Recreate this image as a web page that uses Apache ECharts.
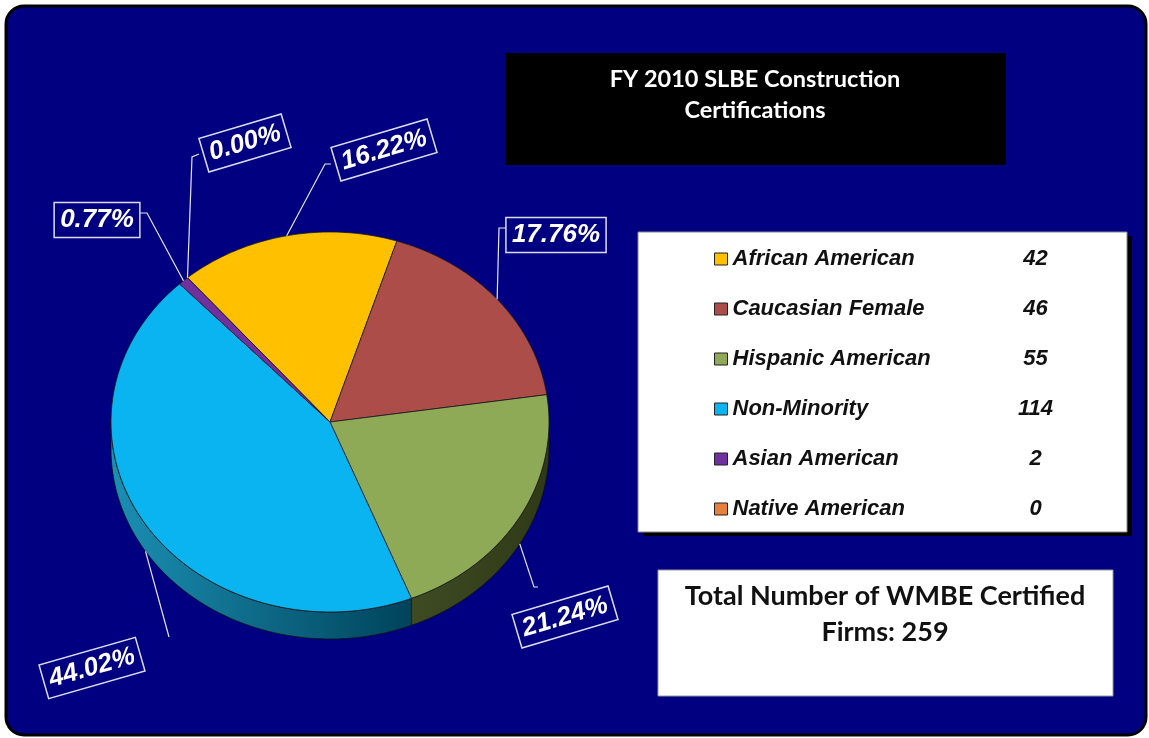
<!DOCTYPE html>
<html>
<head>
<meta charset="utf-8">
<title>FY 2010 SLBE Construction Certifications</title>
<script src="https://cdn.jsdelivr.net/npm/echarts@6/dist/echarts.min.js"></script>
<style>
html, body { margin: 0; padding: 0; background: #ffffff; }
#main { width: 1149px; height: 738px; }
</style>
</head>
<body>
<div id="main"></div>
<script>
// data
var categories = ['African American', 'Caucasian Female', 'Hispanic American', 'Non-Minority', 'Asian American', 'Native American'];
var firmCounts = [42, 46, 55, 114, 2, 0];
var titleLines = ['FY 2010 SLBE Construction', 'Certifications'];
var totalLines = ['Total Number of WMBE Certified', 'Firms: '];

// styling
var topColors = ['#FFC000', '#AD4D4A', '#8FAA57', '#0AB4F0', '#7030A0', '#E6803C'];
var sideColors = [
  ['#7a5c00', '#5a4400'],
  ['#5a2423', '#431a19'],
  ['#3e4b22', '#2f3917'],
  ['#1b8fb3', '#00435b'],
  ['#3a1755', '#2a0f40'],
  ['#7a401a', '#5a2e10']
];
// tilted pie geometry (ellipse) , start angle in degrees counter clockwise from 3 o'clock
var PIE = { cx: 330, cy: 422, rx: 219, ry: 190, depth: 27, start: 130.6 };
// label boxes: centre, rotation, elbow points of the leader line
var labelLayout = [
  { x: 384, y: 150, rot: 16.5, elbow: [[325, 164], [331, 164]] },
  { x: 556, y: 235, rot: 0, elbow: [[499, 228], [506, 228]] },
  { x: 565, y: 617, rot: 16.5, elbow: [[534, 587], [538, 587]] },
  { x: 92, y: 668, rot: 16, elbow: [[169, 637]] },
  { x: 97, y: 220, rot: 0, elbow: [[147, 213], [140, 213]] },
  { x: 245, y: 143, rot: 16.5, elbow: [[192, 157], [199, 154]] }
];

var total = firmCounts.reduce(function (a, b) { return a + b; }, 0);

function pt(deg, dy) {
  var r = deg * Math.PI / 180;
  return [PIE.cx + PIE.rx * Math.cos(r), PIE.cy - PIE.ry * Math.sin(r) + (dy || 0)];
}
function arc(from, to, dy) {
  var pts = [];
  var n = Math.max(2, Math.ceil(Math.abs(from - to)));
  for (var j = 0; j <= n; j++) pts.push(pt(from + (to - from) * j / n, dy));
  return pts;
}

function makeRender(i) {
  return function (params, api) {
    var value = api.value(0);
    var before = 0;
    for (var k = 0; k < i; k++) before += firmCounts[k];
    var a0 = PIE.start - before / total * 360;
    var a1 = a0 - value / total * 360;
    var children = [];

    // visible front wall
    var lo = Math.max(a1, -180), hi = Math.min(a0, 0);
    if (lo < hi) {
      children.push({
        type: 'polygon', z2: 1,
        shape: { points: arc(hi, lo, 0).concat(arc(lo, hi, PIE.depth)) },
        style: {
          fill: new echarts.graphic.LinearGradient(0, 0, 1, 0, [
            { offset: 0, color: sideColors[i][0] },
            { offset: 1, color: sideColors[i][1] }
          ]),
          stroke: '#111', lineWidth: 0.8
        }
      });
    }
    // top face
    if (value > 0) {
      children.push({
        type: 'polygon', z2: 10,
        shape: { points: [[PIE.cx, PIE.cy]].concat(arc(a0, a1, 0)) },
        style: { fill: topColors[i], stroke: '#1a1a1a', lineWidth: 0.8 }
      });
    }
    // leader line + label
    var mid = (a0 + a1) / 2;
    var front = mid < 0 && mid > -180;
    var L = labelLayout[i];
    children.push({
      type: 'polyline', z2: 20,
      shape: { points: [pt(mid, front ? PIE.depth : 0)].concat(L.elbow) },
      style: { stroke: '#e6e6f5', lineWidth: 1.2, fill: null }
    });
    children.push({
      type: 'text', z2: 30,
      x: L.x, y: L.y, rotation: L.rot * Math.PI / 180,
      style: {
        text: (value / total * 100).toFixed(2) + '%',
        fill: '#ffffff',
        fontSize: 26, fontWeight: 'bold', fontStyle: 'italic',
        fontFamily: '"Liberation Sans", Arial, sans-serif',
        align: 'center', verticalAlign: 'middle',
        lineHeight: 30,
        padding: [3, 6, 2, 6],
        borderColor: '#dcdcf0', borderWidth: 1.5
      }
    });
    return { type: 'group', children: children };
  };
}

var series = categories.map(function (name, i) {
  return {
    type: 'custom',
    name: name,
    coordinateSystem: 'none',
    silent: true,
    itemStyle: { color: topColors[i] },
    data: [[firmCounts[i]]],
    renderItem: makeRender(i)
  };
});

var chart = echarts.init(document.getElementById('main'));
chart.setOption({
  animation: false,
  backgroundColor: '#ffffff',
  legend: {
    orient: 'vertical',
    left: 714, top: 248,
    padding: 0,
    itemWidth: 13, itemHeight: 12, itemGap: 28,
    icon: 'rect',
    selectedMode: false,
    z: 5,
    itemStyle: { borderColor: '#222', borderWidth: 1 },
    data: categories,
    formatter: function (name) {
      return '{n|' + name + '}{v|' + firmCounts[categories.indexOf(name)] + '}';
    },
    textStyle: {
      rich: {
        n: { width: 270, fontSize: 22, lineHeight: 24, fontWeight: 'bold', fontStyle: 'italic', color: '#111', fontFamily: '"Liberation Sans", Arial, sans-serif' },
        v: { width: 66, align: 'center', fontSize: 22, lineHeight: 24, fontWeight: 'bold', fontStyle: 'italic', color: '#111', fontFamily: '"Liberation Sans", Arial, sans-serif' }
      }
    }
  },
  graphic: [
    { type: 'rect', z: 0, shape: { x: 6, y: 6, width: 1140, height: 729, r: 18 }, style: { fill: '#000080', stroke: '#000', lineWidth: 3 } },
    { type: 'rect', z: 1, shape: { x: 505, y: 53, width: 501, height: 112 }, style: { fill: '#000' } },
    { type: 'text', z: 1, x: 755, y: 79, style: { text: titleLines[0], fill: '#fff', font: 'bold 23.5px Lato, sans-serif', align: 'center', verticalAlign: 'middle' } },
    { type: 'text', z: 1, x: 755, y: 110, style: { text: titleLines[1], fill: '#fff', font: 'bold 23.5px Lato, sans-serif', align: 'center', verticalAlign: 'middle' } },
    { type: 'rect', z: 1, shape: { x: 643, y: 236, width: 489, height: 300 }, style: { fill: '#000' } },
    { type: 'rect', z: 1, shape: { x: 638, y: 232, width: 489, height: 300 }, style: { fill: '#fff', stroke: '#888', lineWidth: 1 } },
    { type: 'rect', z: 1, shape: { x: 658, y: 570, width: 455, height: 126 }, style: { fill: '#fff', stroke: '#999', lineWidth: 1 } },
    { type: 'text', z: 1, x: 885, y: 596, style: { text: totalLines[0], fill: '#111', font: 'bold 27px Lato, sans-serif', align: 'center', verticalAlign: 'middle' } },
    { type: 'text', z: 1, x: 885, y: 632, style: { text: totalLines[1] + total, fill: '#111', font: 'bold 27px Lato, sans-serif', align: 'center', verticalAlign: 'middle' } }
  ],
  series: series
});
</script>
</body>
</html>
